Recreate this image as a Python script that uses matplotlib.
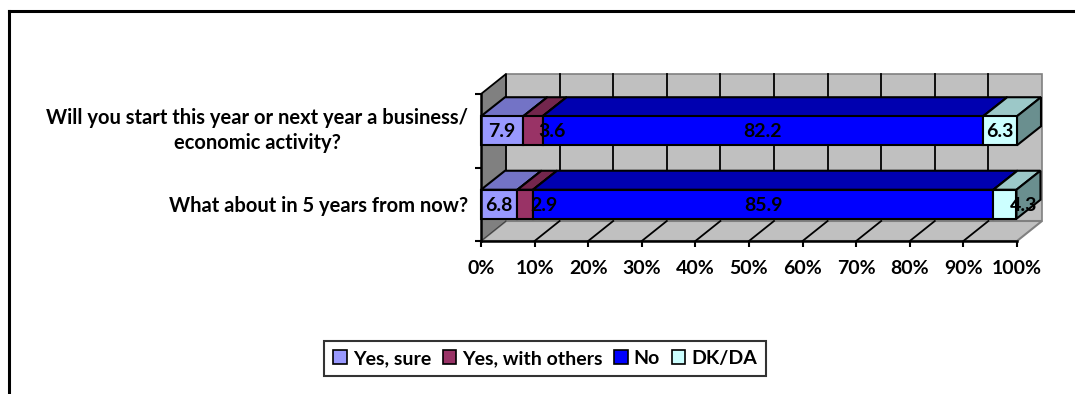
import matplotlib
matplotlib.use("Agg")
import matplotlib.pyplot as plt
import matplotlib.transforms as mtransforms
from matplotlib.patches import Polygon, Rectangle, Patch
from matplotlib.lines import Line2D
import numpy as np

plt.rcParams['font.family'] = ['Lato', 'DejaVu Sans']
plt.rcParams['font.weight'] = 'bold'

# ---- data -------------------------------------------------------------
questions = [
    "What about in 5 years from now?",
    "Will you start this year or next year a business/\neconomic activity?",
]
series_names = ["Yes, sure", "Yes, with others", "No", "DK/DA"]
yes_sure = [6.8, 7.9]
yes_with_others = [2.9, 3.6]
no_answer = [85.9, 82.2]
dk_da = [4.3, 6.3]
x_ticks = [0, 10, 20, 30, 40, 50, 60, 70, 80, 90, 100]
x_tick_labels = ["0%", "10%", "20%", "30%", "40%", "50%", "60%", "70%", "80%", "90%", "100%"]

# face colours: front, top, side
front_colors = ["#9999FF", "#993366", "#0000FF", "#CCFFFF"]
top_colors = ["#7373C6", "#73264D", "#0000B0", "#9CC8C8"]
side_colors = ["#5E5EA8", "#5C1F3E", "#00008C", "#6A8F8F"]

FS = 14

W, H, DPI = 1075, 394, 100
fig = plt.figure(figsize=(W / DPI, H / DPI), dpi=DPI)
fig.patch.set_facecolor("white")

# outer chart frame (top and left edges)
fig.add_artist(Line2D([9 / W, 9 / W], [0, 1 - 11 / H], transform=fig.transFigure,
                      color="black", lw=2.2))
fig.add_artist(Line2D([9 / W, 1.0], [1 - 11 / H, 1 - 11 / H], transform=fig.transFigure,
                      color="black", lw=2.2))

ax_left, ax_right, ax_top, ax_bot = 481, 1017, 94, 241
ax = fig.add_axes([ax_left / W, 1 - ax_bot / H, (ax_right - ax_left) / W, (ax_bot - ax_top) / H])
ax.set_xlim(0, 100)
ax.set_ylim(-0.5, 1.5)
ax.patch.set_visible(False)

# depth of the box, in data units
px_x = 100.0 / (ax_right - ax_left)
px_y = 2.0 / (ax_bot - ax_top)
wdx, wdy = 25 * px_x, 20 * px_y     # walls
bdx, bdy = 24 * px_x, 19 * px_y     # bars

y0, y1 = -0.5, 1.5
# back wall
ax.add_patch(Rectangle((wdx, y0 + wdy), 100, y1 - y0, facecolor="#C0C0C0",
                       edgecolor="#808080", lw=1.2, zorder=0.5, clip_on=False))
for t in x_ticks[1:-1]:
    ax.plot([t + wdx, t + wdx], [y0 + wdy, y1 + wdy], color="black", lw=1.3,
            zorder=0.6, clip_on=False)
# left side wall
ax.add_patch(Polygon([(0, y0), (wdx, y0 + wdy), (wdx, y1 + wdy), (0, y1)], closed=True,
                     facecolor="#808080", edgecolor="none", zorder=0.7, clip_on=False))
ax.plot([0, wdx, wdx], [y1, y1 + wdy, y0 + wdy], color="black", lw=1.3, zorder=0.75,
        clip_on=False)
# floor
ax.add_patch(Polygon([(0, y0), (100, y0), (100 + wdx, y0 + wdy), (wdx, y0 + wdy)], closed=True,
                     facecolor="#C0C0C0", edgecolor="#808080", lw=1.5, zorder=0.8, clip_on=False))
for t in x_ticks[:-1]:
    ax.plot([t, t + wdx], [y0, y0 + wdy], color="black" if t > 0 else "#404040",
            lw=1.3 if t > 0 else 0.8, zorder=0.85, clip_on=False)

# stacked 3D bars
series = [yes_sure, yes_with_others, no_answer, dk_da]
ypos = np.arange(len(questions))
bh = 0.395
lefts = np.zeros(len(questions))
for s, vals in enumerate(series):
    vals = np.asarray(vals, dtype=float)
    bars = ax.barh(ypos, vals, left=lefts, height=bh, color=front_colors[s],
                   edgecolor="black", lw=1.5, zorder=3, clip_on=False)
    for i, (l, v) in enumerate(zip(lefts, vals)):
        yt, yb = ypos[i] + bh / 2, ypos[i] - bh / 2
        ax.add_patch(Polygon([(l, yt), (l + v, yt), (l + v + bdx, yt + bdy), (l + bdx, yt + bdy)],
                             closed=True, facecolor=top_colors[s], edgecolor="black",
                             lw=1.5, zorder=2.5 + s * 0.01, clip_on=False))
        ax.add_patch(Polygon([(l + v, yb), (l + v, yt), (l + v + bdx, yt + bdy), (l + v + bdx, yb + bdy)],
                             closed=True, facecolor=side_colors[s], edgecolor="black",
                             lw=1.5, zorder=2.5 + s * 0.01, clip_on=False))
        dx_off = 19 if v < 5 else 0
        ax.annotate(f"{v:.1f}", xy=(l + v / 2, ypos[i]), xytext=(dx_off, -1),
                    textcoords="offset pixels", ha="center", va="center",
                    fontsize=FS, fontweight="bold", color="black", zorder=5)
    lefts = lefts + vals

# axes, ticks, labels
for sp in ["top", "right"]:
    ax.spines[sp].set_visible(False)
for sp in ["left", "bottom"]:
    ax.spines[sp].set_color("black")
    ax.spines[sp].set_linewidth(1.8)
    ax.spines[sp].set_zorder(4)
ax.set_xticks(x_ticks)
ax.set_xticklabels(x_tick_labels, fontsize=FS, fontweight="bold")
ax.tick_params(axis="x", length=4, width=1.5, color="black", pad=10)
ax.set_yticks(ypos)
ylabels = ax.set_yticklabels(questions, fontsize=14.5, fontweight="bold",
                             multialignment="center", linespacing=1.35)
ax.set_yticks([-0.5, 0.5, 1.5], minor=True)
ax.tick_params(axis="y", which="major", length=0, pad=9)
ax.tick_params(axis="y", which="minor", length=4, width=1.5, color="black")
# lift the two-line question slightly
two_line = ylabels[1]
two_line.set_transform(two_line.get_transform()
                       + mtransforms.ScaledTranslation(0, 5 / DPI, fig.dpi_scale_trans))

handles = [Patch(facecolor=c, edgecolor="black", lw=1.2) for c in front_colors]
leg = fig.legend(handles, series_names, loc="center", bbox_to_anchor=(545 / W, 1 - 358.5 / H),
                 ncol=4, frameon=True, fancybox=False, edgecolor="black",
                 prop={"weight": "bold", "size": FS}, handlelength=0.7, handleheight=0.7,
                 handletextpad=0.3, columnspacing=0.6, borderpad=0.45)
leg.get_frame().set_linewidth(1.5)

fig.savefig("out.png", dpi=DPI, facecolor="white")
